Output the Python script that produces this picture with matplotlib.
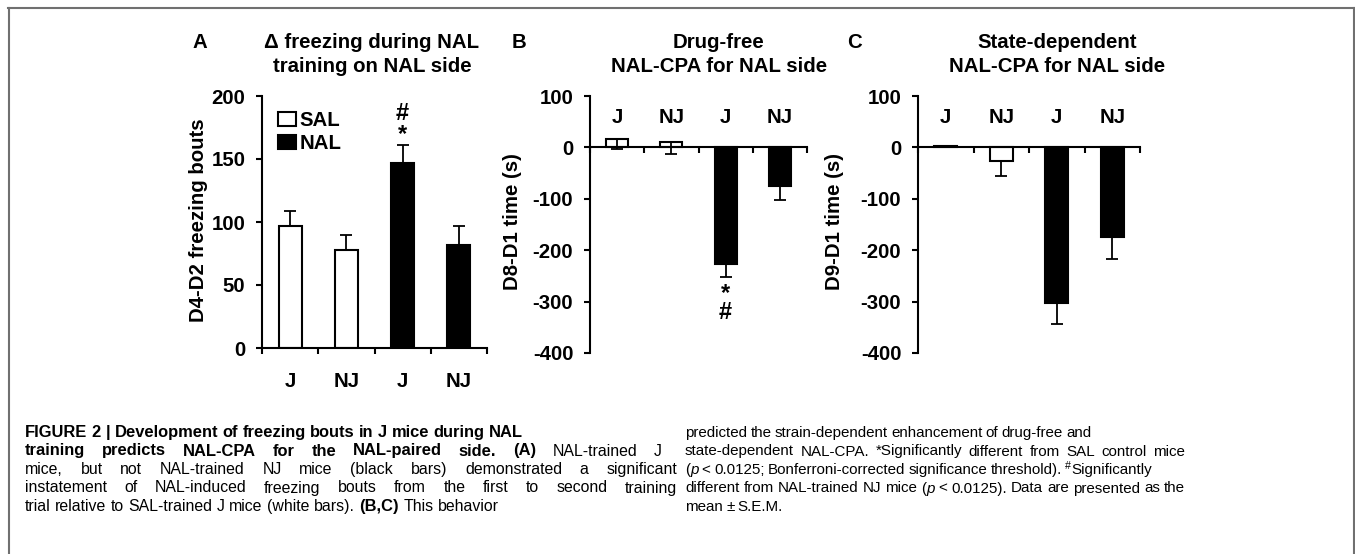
import numpy as np
import matplotlib
matplotlib.use('Agg')
import matplotlib.pyplot as plt
from matplotlib.patches import Patch
from matplotlib.lines import Line2D
from matplotlib import font_manager as fm

# ---------------- data ----------------
categories = ['J', 'NJ', 'J', 'NJ']
treatments = ['SAL', 'SAL', 'NAL', 'NAL']
a_means = [97, 78, 147, 82]
a_sem = [12, 12, 14, 15]
b_means = [17, 11, -227, -76]
b_sem = [20, 23, 26, 27]
c_means = [2, -26, -302, -175]
c_sem = [1, 30, 41, 43]
a_yticks = [0, 50, 100, 150, 200]
bc_yticks = [-400, -300, -200, -100, 0, 100]

W, H = 1355, 554
DPI = 100
names = {f.name for f in fm.fontManager.ttflist}
FONT = 'Liberation Sans' if 'Liberation Sans' in names else 'DejaVu Sans'
plt.rcParams['font.family'] = [FONT, 'DejaVu Sans']

fig = plt.figure(figsize=(W / DPI, H / DPI), dpi=DPI)
fig.patch.set_facecolor('white')

def px_axes(l, t, r, b):
    return fig.add_axes([l / W, 1 - b / H, (r - l) / W, (b - t) / H])

colors = ['white' if t == 'SAL' else 'black' for t in treatments]
FS = 14.7
LW = 1.5
x = np.arange(len(categories))

def style_axes(ax, ylim, yticks):
    ax.set_xlim(-0.5, len(categories) - 0.5)
    ax.set_ylim(*ylim)
    ax.set_yticks(yticks)
    ax.set_yticklabels([str(v) for v in yticks], fontsize=FS, fontweight='bold')
    ax.set_xticks(np.arange(len(categories) + 1) - 0.5)
    ax.set_xticklabels([])
    for s in ['top', 'right']:
        ax.spines[s].set_visible(False)
    for s in ['left', 'bottom']:
        ax.spines[s].set_linewidth(LW)
    ax.tick_params(axis='both', which='major', direction='out', length=4, width=LW)
    ax.tick_params(axis='y', pad=8)
    ax.set_facecolor('none')

def bars(ax, means, sem, up):
    ax.bar(x, means, width=0.41, color=colors, edgecolor='black', linewidth=LW, zorder=2)
    if up:
        yerr = [[0] * len(sem), sem]
    else:
        yerr = [sem, [0] * len(sem)]
    ax.errorbar(x, means, yerr=yerr, fmt='none', ecolor='black', elinewidth=1.3,
                capsize=4, capthick=1.3, zorder=3)

# ---------------- Panel A ----------------
axA = px_axes(262, 96, 487, 348)
bars(axA, a_means, a_sem, up=True)
style_axes(axA, (0, 200), a_yticks)
axA.set_xticks(x, minor=True)
axA.set_xticklabels(categories, minor=True, fontsize=FS, fontweight='bold')
axA.tick_params(axis='x', which='minor', length=0, pad=17)
axA.text(2, 160.5, '#\n*', ha='center', va='bottom', fontsize=17, fontweight='bold',
         linespacing=0.85)
leg = axA.legend(handles=[Patch(facecolor='white', edgecolor='black', linewidth=LW),
                          Patch(facecolor='black', edgecolor='black', linewidth=LW)],
                 labels=['SAL', 'NAL'], loc='upper left', bbox_to_anchor=(0.073, 0.94),
                 frameon=False, borderpad=0, borderaxespad=0, handlelength=0.85,
                 handleheight=0.7, handletextpad=0.2, labelspacing=0.2,
                 prop={'size': FS, 'weight': 'bold'})

# ---------------- Panel B / C ----------------
def panel_bc(l, r, means, sem):
    ax = px_axes(l, 96, r, 353)
    bars(ax, means, sem, up=False)
    style_axes(ax, (-400, 100), bc_yticks)
    ax.spines['bottom'].set_position(('data', 0))
    for i, c in enumerate(categories):
        ax.text(i, 59, c, ha='center', va='center', fontsize=FS, fontweight='bold')
    return ax

axB = panel_bc(590, 807, b_means, b_sem)
axB.text(2, -262, '*\n#', ha='center', va='top', fontsize=17, fontweight='bold',
         linespacing=0.8)
axC = panel_bc(918, 1140, c_means, c_sem)

# ---------------- titles, letters, y labels ----------------
def ftext(xp, yp, s, **kw):
    return fig.text(xp / W, 1 - yp / H, s, **kw)

tk = dict(ha='center', va='center', fontsize=FS, fontweight='bold')
ftext(200, 43, 'A', **tk)
ftext(519, 43, 'B', **tk)
ftext(854, 43, 'C', **tk)
ftext(372, 43, '\u0394 freezing during NAL', **tk)
ftext(372, 67, 'training on NAL side', **tk)
ftext(719, 43, 'Drug-free', **tk)
ftext(719, 67, 'NAL-CPA for NAL side', **tk)
ftext(1057, 43, 'State-dependent', **tk)
ftext(1057, 67, 'NAL-CPA for NAL side', **tk)
ftext(198, 220, 'D4-D2 freezing bouts', rotation=90, **tk)
ftext(513, 222, 'D8-D1 time (s)', rotation=90, **tk)
ftext(835, 222, 'D9-D1 time (s)', rotation=90, **tk)

# ---------------- frame ----------------
gray = '#707070'
fig.add_artist(Line2D([8 / W, 1354 / W], [1 - 8 / H, 1 - 8 / H], color=gray, lw=1.5))
fig.add_artist(Line2D([8.5 / W, 8.5 / W], [0, 1 - 8 / H], color=gray, lw=1.5))
fig.add_artist(Line2D([1353.5 / W, 1353.5 / W], [0, 1 - 8 / H], color=gray, lw=1.5))

# ---------------- caption ----------------
renderer = fig.canvas.get_renderer()
BFS = 11.9
CFAM = [FONT, 'DejaVu Sans']

def make_style(rfs):
    def piece_kw(st):
        if st == 'b':
            return dict(fontsize=BFS, family=CFAM, fontweight='bold')
        kw = dict(fontsize=rfs, family=CFAM)
        if st == 'i':
            kw['fontstyle'] = 'italic'
        elif st == 's':
            kw['fontsize'] = rfs * 0.7
        return kw
    return piece_kw

C1FS, C2FS = 11.4, 10.9
col1_style = make_style(C1FS)
col2_style = make_style(C2FS)

def caption_line(x0, yb, runs, piece_kw, rfs, right=None, sp=0.25):
    words = [[]]
    for txt, st in runs:
        parts = txt.split(' ')
        for k, p in enumerate(parts):
            if k > 0:
                words.append([])
            if p:
                words[-1].append((p, st))
    words = [w for w in words if w]

    def measure(s, st):
        t = fig.text(0, 0, s, **piece_kw(st))
        w = t.get_window_extent(renderer).width
        t.remove()
        return w

    widths = [sum(measure(p, st) for p, st in w) for w in words]
    space = rfs * DPI / 72.0 * sp
    total = sum(widths) + space * (len(words) - 1)
    if right is not None and len(words) > 1 and total < right - x0:
        space = (right - x0 - sum(widths)) / (len(words) - 1)
    xp = x0
    for w, wd in zip(words, widths):
        xx = xp
        for p, st in w:
            yy = yb - rfs * DPI / 72.0 * 0.36 if st == 's' else yb
            t = ftext(xx, yy, p, va='baseline', ha='left', **piece_kw(st))
            xx += t.get_window_extent(renderer).width
        xp += wd + space

col1 = [
    ([('FIGURE 2 | Development of freezing bouts in J mice during NAL', 'b')], None),
    ([('training predicts NAL-CPA for the NAL-paired side.', 'b'), (' ', 'n'), ('(A)', 'b'),
      (' NAL-trained J', 'n')], 662),
    ([('mice, but not NAL-trained NJ mice (black bars) demonstrated a significant', 'n')], 677),
    ([('instatement of NAL-induced freezing bouts from the first to second training', 'n')], 677),
    ([('trial relative to SAL-trained J mice (white bars). ', 'n'), ('(B,C)', 'b'),
      (' This behavior', 'n')], None),
]
col2 = [
    ([('predicted the strain-dependent enhancement of drug-free and', 'n')], None),
    ([('state-dependent NAL-CPA. *Significantly different from SAL control mice', 'n')], 1185),
    ([('(', 'n'), ('p', 'i'), (' < 0.0125; Bonferroni-corrected significance threshold). ', 'n'),
      ('#', 's'), ('Significantly', 'n')], None),
    ([('different from NAL-trained NJ mice (', 'n'), ('p', 'i'),
      (' < 0.0125). Data are presented as the', 'n')], 1185),
    ([('mean \u00b1 S.E.M.', 'n')], None),
]
baselines = [437, 455.5, 474, 492.5, 511]
for (runs, right), yb in zip(col1, baselines):
    caption_line(25, yb, runs, col1_style, C1FS, right, sp=0.28)
for (runs, right), yb in zip(col2, baselines):
    caption_line(685, yb, runs, col2_style, C2FS, right, sp=0.22)

fig.savefig('out.png', dpi=DPI, facecolor='white')
